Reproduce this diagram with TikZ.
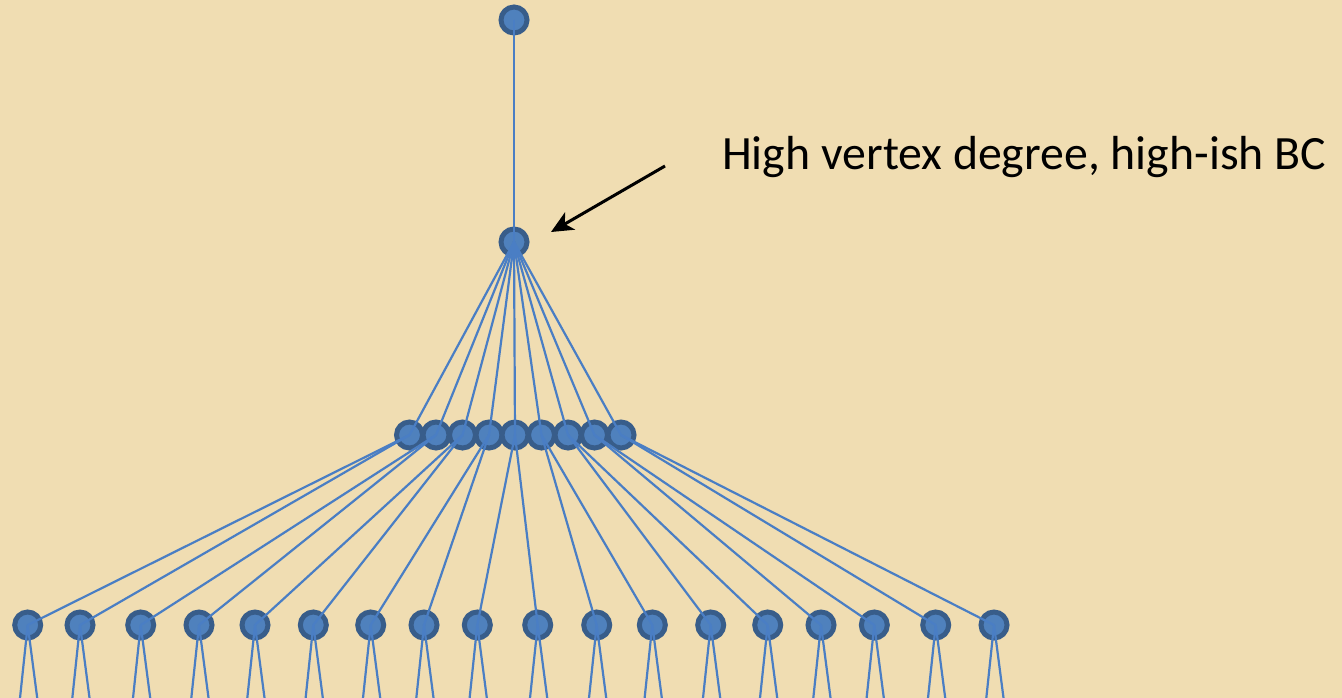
\documentclass[tikz,border=0pt]{standalone}
\usepackage{fontspec}
\setmainfont{Carlito}
\usetikzlibrary{arrows.meta}
\definecolor{parch}{HTML}{F0DDB2}
\definecolor{vfill}{HTML}{4F81BD}
\definecolor{vborder}{HTML}{385D8A}
\definecolor{edgec}{HTML}{4A7EC4}
\begin{document}
\begin{tikzpicture}[x=1pt,y=-1pt,
  vertex/.style={circle,fill=vfill,draw=vborder,line width=5pt,minimum size=26pt,inner sep=0pt},
  edge/.style={draw=edgec,line width=2.2pt},
  pointer/.style={draw=black,line width=3pt,-{Stealth[length=22pt,width=20pt,inset=6pt]}}]
\fill[parch] (0,0) rectangle (1342,698);
\clip (0,0) rectangle (1342,698);
% vertices
\node[vertex] (t) at (514,20) {};
\node[vertex] (h) at (514,242) {};
\foreach \i/\x in {1/409.5,2/436,3/462.5,4/489,5/515,6/541.5,7/568,8/594.5,9/621}
  \node[vertex] (m\i) at (\x,435) {};
\foreach \i/\x in {1/27.7,2/80,3/140.7,4/199,5/255,6/313.3,7/370.7,8/424,9/477.3,
                   10/537.7,11/596.7,12/652.3,13/710.7,14/767.7,15/821,16/874.3,17/935.7,18/994}{
  \node[vertex] (b\i) at (\x,625) {};
  \coordinate (cl\i) at (\x-10,720);
  \coordinate (cr\i) at (\x+12.4,720);
}
% edges
\draw[edge] (t.center) -- (h.center);
\foreach \i in {1,...,9}
  \draw[edge] (h.center) -- (m\i.center);
\foreach \i [evaluate=\i as \a using int(2*\i-1), evaluate=\i as \b using int(2*\i)] in {1,...,9}{
  \draw[edge] (m\i.center) -- (b\a.center);
  \draw[edge] (m\i.center) -- (b\b.center);
}
\foreach \i in {1,...,18}{
  \draw[edge] (b\i.center) -- (cl\i);
  \draw[edge] (b\i.center) -- (cr\i);
}
% label and pointer
\node[anchor=base west,inner sep=0pt,font=\fontsize{47.8}{56}\selectfont] (lbl) at (722,170) {High vertex degree, high-ish BC};
\coordinate (ptail) at (665,166);
\coordinate (ptip) at (551,232);
\draw[pointer] (ptail) -- (ptip);
\end{tikzpicture}
\end{document}
